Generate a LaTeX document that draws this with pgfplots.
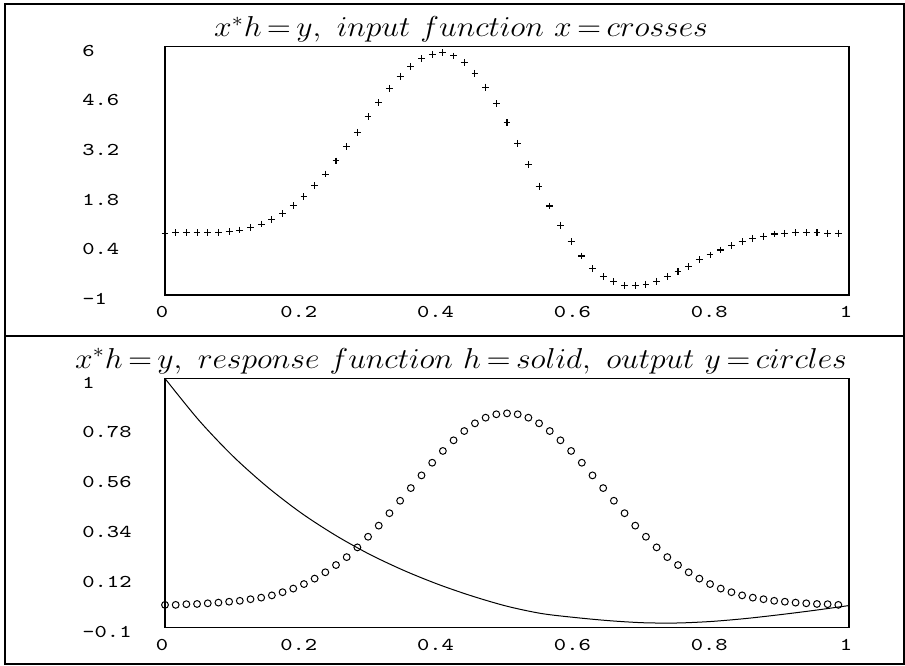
\documentclass[border=0pt]{standalone}
\usepackage{graphicx}
\usepackage{pgfplots}
\usepackage{pgfplotstable}
\pgfplotsset{compat=1.18}

% tick labels: thin mono digits, stretched a little
\newcommand{\tl}[1]{\scalebox{1.3}[1]{\ttfamily\fontsize{9}{9}\selectfont #1}}
% panel titles in math italic, a little wide
\newcommand{\ttl}[1]{\scalebox{1.1}[1]{\fontsize{14.3}{16}\selectfont #1}}
\newcommand{\eq}{\mathrel{\mkern-2mu=\mkern-2mu}}

% input x (crosses), sampled at k/64
\pgfplotstableread{
k y
0 0.74
1 0.76
2 0.76
3 0.76
4 0.76
5 0.77
6 0.79
7 0.83
8 0.91
9 1.00
10 1.13
11 1.30
12 1.52
13 1.77
14 2.08
15 2.41
16 2.78
17 3.18
18 3.59
19 4.03
20 4.43
21 4.83
22 5.17
23 5.44
24 5.67
25 5.79
26 5.83
27 5.74
28 5.55
29 5.25
30 4.86
31 4.40
32 3.86
33 3.28
34 2.68
35 2.07
36 1.51
37 0.97
38 0.50
39 0.10
40 -0.25
41 -0.48
42 -0.62
43 -0.74
44 -0.74
45 -0.70
46 -0.61
47 -0.48
48 -0.34
49 -0.20
50 -0.01
51 0.13
52 0.27
53 0.39
54 0.50
55 0.60
56 0.66
57 0.72
58 0.74
59 0.76
60 0.76
61 0.76
62 0.74
63 0.74
}\inputx

% output y (circles), sampled at k/64
\pgfplotstableread{
k y
0 0.000
1 0.000
2 0.003
3 0.004
4 0.007
5 0.010
6 0.014
7 0.018
8 0.025
9 0.032
10 0.042
11 0.056
12 0.072
13 0.092
14 0.116
15 0.144
16 0.176
17 0.211
18 0.254
19 0.301
20 0.350
21 0.405
22 0.460
23 0.516
24 0.572
25 0.628
26 0.680
27 0.727
28 0.768
29 0.802
30 0.827
31 0.842
32 0.846
33 0.842
34 0.827
35 0.802
36 0.768
37 0.727
38 0.680
39 0.628
40 0.572
41 0.516
42 0.460
43 0.405
44 0.350
45 0.301
46 0.254
47 0.211
48 0.176
49 0.144
50 0.116
51 0.092
52 0.072
53 0.056
54 0.042
55 0.032
56 0.025
57 0.018
58 0.014
59 0.010
60 0.007
61 0.004
62 0.003
63 0.000
}\outputy

% response h (solid line)
\pgfplotstableread{
t h
0.00 1.000
0.05 0.814
0.10 0.655
0.15 0.520
0.20 0.404
0.25 0.306
0.30 0.222
0.35 0.151
0.40 0.090
0.45 0.038
0.50 -0.006
0.55 -0.038
0.60 -0.056
0.65 -0.070
0.70 -0.079
0.75 -0.080
0.80 -0.073
0.85 -0.060
0.90 -0.043
0.95 -0.024
1.00 -0.003
}\response

\pgfplotsset{
  panel/.style={
    scale only axis,
    width=342pt,
    anchor=south west,
    xmin=0, xmax=1,
    axis line style={line width=0.7pt},
    major tick length=0pt,
    xtick={0,0.2,0.4,0.6,0.8,1},
    xticklabels={\tl{0},\tl{0.2},\tl{0.4},\tl{0.6},\tl{0.8},\tl{1}},
    xticklabel style={anchor=north, inner sep=0pt, yshift=-5.5pt, xshift=-1.5pt},
    yticklabel style={anchor=west, inner sep=0pt, xshift=-41.5pt, yshift=-2pt},
    clip=false,
  },
}

\begin{document}
\begin{tikzpicture}
\begin{scope}[x=0.5pt,y=-0.5pt]
  \path[use as bounding box] (0,0) rectangle (905,665);
  \draw[line width=0.7pt] (5,4) rectangle (904,664);
  \draw[line width=0.7pt] (5,336) -- (904,336);
  \node[anchor=base, inner sep=0pt] at (461,36.5)
    {\ttl{$x^{*}h\eq y,\ input\ function\ x\eq crosses$}};
  \node[anchor=base, inner sep=0pt] at (461,368)
    {\ttl{$x^{*}h\eq y,\ response\ function\ h\eq solid,\ output\ y\eq circles$}};
\end{scope}

\begin{axis}[panel,
    at={(82.5pt,-147.5pt)},
    height=124.15pt,
    ymin=-1, ymax=6,
    ytick={-1,0.4,1.8,3.2,4.6,6},
    yticklabels={\tl{-1},\tl{0.4},\tl{1.8},\tl{3.2},\tl{4.6},\tl{6}},
]
\addplot[only marks, mark=+, mark size=1.7pt, line width=0.55pt, black]
  table[x expr=\thisrow{k}/64, y=y] {\inputx};
\end{axis}

\begin{axis}[panel,
    at={(82.5pt,-313.75pt)},
    height=124.5pt,
    ymin=-0.1, ymax=1,
    ytick={-0.1,0.12,0.34,0.56,0.78,1},
    yticklabels={\tl{-0.1},\tl{0.12},\tl{0.34},\tl{0.56},\tl{0.78},\tl{1}},
]
\addplot[smooth, line width=0.5pt, black] table[x=t, y=h] {\response};
\addplot[only marks, mark=o, mark size=1.7pt, line width=0.5pt, black]
  table[x expr=\thisrow{k}/64, y=y] {\outputy};
\end{axis}
\end{tikzpicture}
\end{document}
